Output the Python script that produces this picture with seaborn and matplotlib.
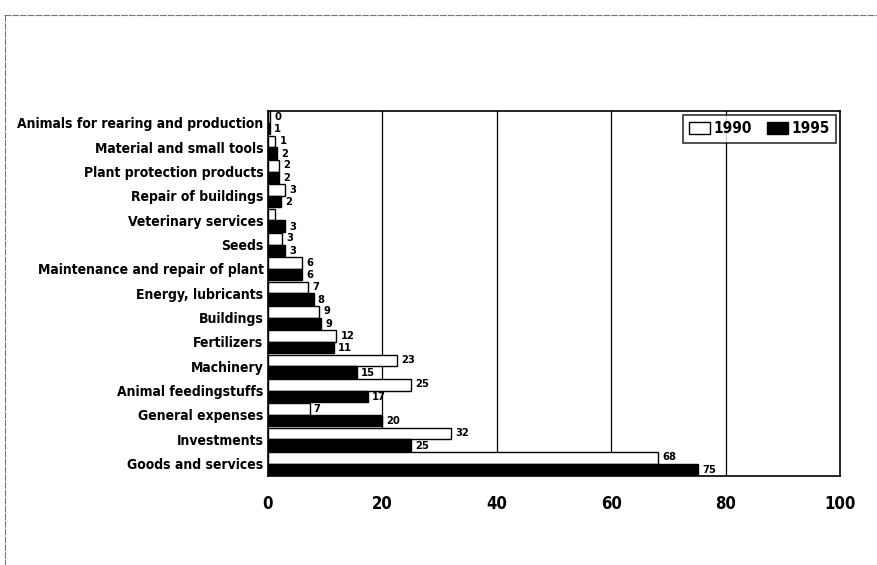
import matplotlib
matplotlib.use("Agg")
import matplotlib.pyplot as plt
from matplotlib.lines import Line2D
import seaborn as sns
import pandas as pd

categories = [
    "Animals for rearing and production",
    "Material and small tools",
    "Plant protection products",
    "Repair of buildings",
    "Veterinary services",
    "Seeds",
    "Maintenance and repair of plant",
    "Energy, lubricants",
    "Buildings",
    "Fertilizers",
    "Machinery",
    "Animal feedingstuffs",
    "General expenses",
    "Investments",
    "Goods and services",
]
values_1990 = [0.4, 1.3, 2.0, 3.0, 1.3, 2.5, 6.0, 7.0, 9.0, 12.0, 22.5, 25.0, 7.3, 32.0, 68.2]
values_1995 = [0.4, 1.6, 2.0, 2.3, 3.0, 3.0, 6.0, 8.0, 9.3, 11.5, 15.5, 17.5, 20.0, 25.0, 75.2]
labels_1990 = ["0", "1", "2", "3", "", "3", "6", "7", "9", "12", "23", "25", "7", "32", "68"]
labels_1995 = ["1", "2", "2", "2", "3", "3", "6", "8", "9", "11", "15", "17", "20", "25", "75"]
years = ["1990", "1995"]
x_ticks = [0, 20, 40, 60, 80, 100]

df = pd.DataFrame({
    "category": categories * 2,
    "value": values_1990 + values_1995,
    "year": [years[0]] * len(categories) + [years[1]] * len(categories),
})

sns.set_style("white")
plt.rcParams["font.family"] = ["DejaVu Sans"]
plt.rcParams["font.stretch"] = "condensed"
plt.rcParams["font.weight"] = "bold"
plt.rcParams["text.color"] = "black"
plt.rcParams["xtick.color"] = "black"
plt.rcParams["ytick.color"] = "black"

fig = plt.figure(figsize=(8.78, 5.65), dpi=100)
ax = fig.add_axes([0.305, 0.158, 0.652, 0.646])

sns.barplot(data=df, y="category", x="value", hue="year", orient="h",
            palette={"1990": "white", "1995": "black"}, edgecolor="black",
            linewidth=1.0, width=0.95, ax=ax, legend=True)

for container, labs, dy in zip(ax.containers, [labels_1990, labels_1995], [0.4, -0.4]):
    anns = ax.bar_label(container, labels=labs, padding=3, fontsize=8,
                        fontweight="bold", fontstretch="condensed")
    for a in anns:
        a.xyann = (3, dy)

ax.set_xlim(0, 100)
ax.set_xticks(x_ticks)
ax.set_xticklabels([str(t) for t in x_ticks], fontsize=12, fontweight="bold",
                   fontstretch="condensed")
ax.tick_params(axis="x", length=0, pad=14)
ax.tick_params(axis="y", length=0, pad=3)
for lab in ax.get_yticklabels():
    lab.set_fontweight("bold")
    lab.set_fontsize(10)
    lab.set_fontstretch("condensed")
ax.set_xlabel("")
ax.set_ylabel("")
ax.set_ylim(len(categories) - 0.5, -0.5)
for t in x_ticks[1:-1]:
    ax.axvline(t, color="black", linewidth=0.9, zorder=0)
for s in ax.spines.values():
    s.set_color("black")
    s.set_linewidth(1.2)

leg = ax.legend(loc="upper right", ncol=2, frameon=True, fontsize=11,
                handlelength=1.4, handleheight=0.8, handletextpad=0.2,
                columnspacing=1.0, borderaxespad=0.3, borderpad=0.4,
                fancybox=False)
leg.get_frame().set_edgecolor("black")
leg.get_frame().set_linewidth(1.2)
for txt in leg.get_texts():
    txt.set_fontweight("bold")
    txt.set_fontstretch("condensed")

fig.add_artist(Line2D([0.005, 1.0], [0.973, 0.973], transform=fig.transFigure,
                      color="#777777", linewidth=0.8, linestyle=(0, (6, 1))))
fig.add_artist(Line2D([0.006, 0.006], [0.973, 0.0], transform=fig.transFigure,
                      color="#777777", linewidth=0.8, linestyle=(0, (6, 1))))

fig.savefig("out.png", dpi=100)
